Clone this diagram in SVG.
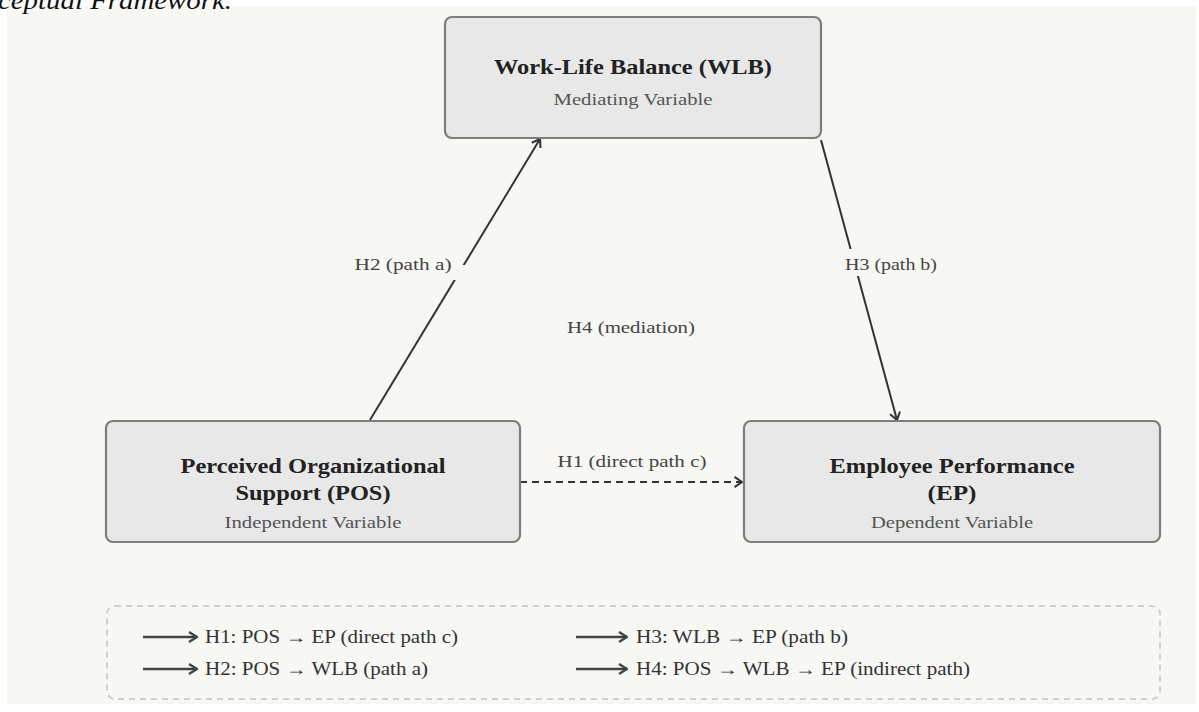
<svg xmlns="http://www.w3.org/2000/svg" width="1199" height="712" viewBox="0 0 1199 712">
<style>
.box{fill:#e8e8e8;stroke:#7d7d7d;stroke-width:2.2}
.title{font-family:"Liberation Serif",serif;font-weight:bold;font-size:21px;fill:#222;text-anchor:middle}
.sub{font-family:"Liberation Serif",serif;font-size:17px;fill:#555;text-anchor:middle}
.lbl{font-family:"Liberation Serif",serif;font-size:17px;fill:#444;text-anchor:middle}
.leg{font-family:"Liberation Serif",serif;font-size:18px;fill:#333}
.conn{stroke:#333;stroke-width:2;fill:none}
.lbg{fill:#f7f7f3}
</style>
<defs>
<marker id="arr" viewBox="0 0 14 14" refX="13" refY="7" markerWidth="13" markerHeight="13" orient="auto" markerUnits="userSpaceOnUse">
<polyline points="5,1.5 13,7 5,12.5" fill="none" stroke="#333" stroke-width="2.2"/>
</marker>
<marker id="arrL" viewBox="0 0 14 14" refX="13" refY="7" markerWidth="14" markerHeight="14" orient="auto" markerUnits="userSpaceOnUse">
<polyline points="5,2 13,7 5,12" fill="none" stroke="#444" stroke-width="2.4"/>
</marker>
</defs>
<rect x="0" y="0" width="1199" height="712" fill="#ffffff"/>
<rect x="7" y="6" width="1189" height="698" fill="#f7f7f3"/>
<text x="-2" y="9" font-family="'Liberation Serif',serif" font-style="italic" font-size="25" fill="#111" textLength="234" lengthAdjust="spacingAndGlyphs">ceptual Framework.</text>

<g id="connectors">
<line class="conn" x1="370" y1="420" x2="540" y2="139" marker-end="url(#arr)"/>
<line class="conn" x1="821" y1="140" x2="897" y2="420" marker-end="url(#arr)"/>
<line class="conn" x1="520" y1="482" x2="742" y2="482" stroke-dasharray="7,5" marker-end="url(#arr)"/>
<rect class="lbg" x="449" y="265" width="18" height="15"/>
<rect class="lbg" x="842" y="249" width="72" height="27"/>
<text class="lbl" x="403" y="270" textLength="97" lengthAdjust="spacingAndGlyphs">H2 (path a)</text>
<text class="lbl" x="891" y="270" textLength="92" lengthAdjust="spacingAndGlyphs">H3 (path b)</text>
<text class="lbl" x="632" y="467" textLength="149" lengthAdjust="spacingAndGlyphs">H1 (direct path c)</text>
<text class="lbl" x="631" y="333" textLength="128" lengthAdjust="spacingAndGlyphs">H4 (mediation)</text>
</g>

<g id="wlb">
<rect class="box" x="445" y="17" width="376" height="121" rx="7"/>
<text class="title" x="633" y="74" textLength="278" lengthAdjust="spacingAndGlyphs">Work-Life Balance (WLB)</text>
<text class="sub" x="633" y="105" textLength="159" lengthAdjust="spacingAndGlyphs">Mediating Variable</text>
</g>
<g id="pos">
<rect class="box" x="106" y="421" width="414" height="121" rx="7"/>
<text class="title" x="313" y="473" textLength="265" lengthAdjust="spacingAndGlyphs">Perceived Organizational</text>
<text class="title" x="313" y="500" textLength="155" lengthAdjust="spacingAndGlyphs">Support (POS)</text>
<text class="sub" x="313" y="528" textLength="177" lengthAdjust="spacingAndGlyphs">Independent Variable</text>
</g>
<g id="ep">
<rect class="box" x="744" y="421" width="416" height="121" rx="7"/>
<text class="title" x="952" y="473" textLength="245" lengthAdjust="spacingAndGlyphs">Employee Performance</text>
<text class="title" x="952" y="500" textLength="49" lengthAdjust="spacingAndGlyphs">(EP)</text>
<text class="sub" x="952" y="528" textLength="162" lengthAdjust="spacingAndGlyphs">Dependent Variable</text>
</g>

<g id="legend">
<rect x="107" y="606" width="1053" height="93" rx="8" fill="none" stroke="#cfcfcf" stroke-width="2" stroke-dasharray="6,5"/>
<line x1="143" y1="637" x2="197" y2="637" stroke="#444" stroke-width="2.4" marker-end="url(#arrL)"/>
<text class="leg" x="205" y="643" textLength="253" lengthAdjust="spacingAndGlyphs">H1: POS → EP (direct path c)</text>
<line x1="143" y1="669" x2="197" y2="669" stroke="#444" stroke-width="2.4" marker-end="url(#arrL)"/>
<text class="leg" x="205" y="675" textLength="223" lengthAdjust="spacingAndGlyphs">H2: POS → WLB (path a)</text>
<line x1="576" y1="637" x2="627" y2="637" stroke="#444" stroke-width="2.4" marker-end="url(#arrL)"/>
<text class="leg" x="636" y="643" textLength="212" lengthAdjust="spacingAndGlyphs">H3: WLB → EP (path b)</text>
<line x1="576" y1="669" x2="627" y2="669" stroke="#444" stroke-width="2.4" marker-end="url(#arrL)"/>
<text class="leg" x="636" y="675" textLength="334" lengthAdjust="spacingAndGlyphs">H4: POS → WLB → EP (indirect path)</text>
</g>
</svg>
